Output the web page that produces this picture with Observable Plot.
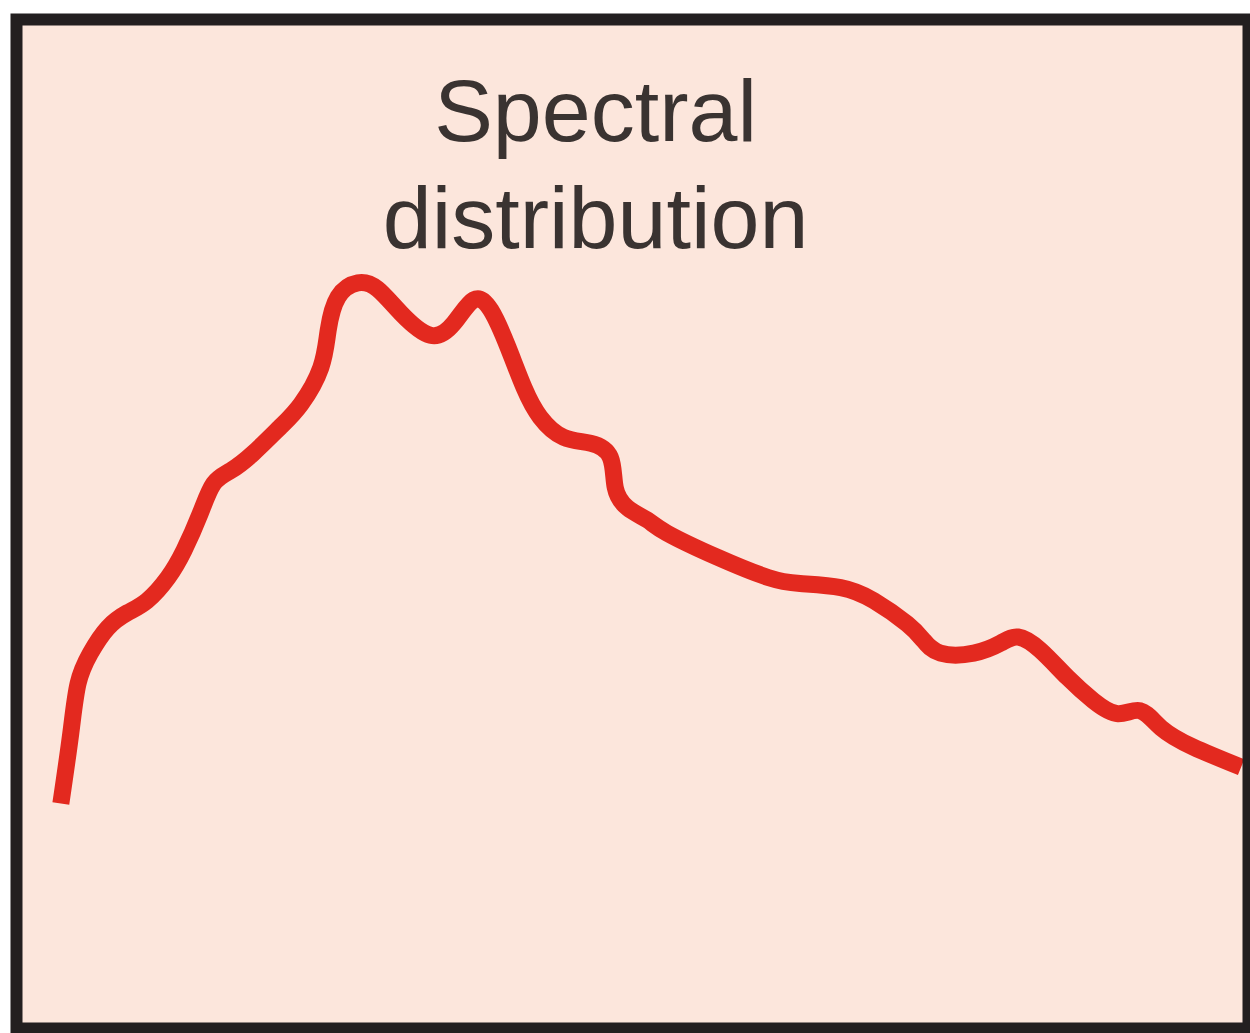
<!DOCTYPE html>
<html>
<head>
<meta charset="utf-8">
<script src="https://cdn.jsdelivr.net/npm/d3@7"></script>
<script src="https://cdn.jsdelivr.net/npm/@observablehq/plot@0.6"></script>
<style>
  html, body { margin: 0; padding: 0; background: #ffffff; }
  #chart svg { display: block; }
</style>
</head>
<body>
<div id="chart"></div>
<script>
// Position along the spectrum (relative units, 0–100)
const position = [
  3.6, 4.4, 5.0, 6.0, 7.4, 9.0, 10.6, 12.3, 13.6, 14.9, 16.0, 17.4, 19.2, 21.4,
  23.1, 24.7, 25.3, 26.1, 27.7, 29.3, 31.2, 33.6, 35.5, 37.1, 38.5, 39.9, 41.2,
  42.5, 44.4, 46.6, 48.2, 48.6, 49.6, 51.2, 52.8, 56.9, 61.0, 63.6, 66.9, 69.6,
  72.3, 73.6, 75.0, 77.7, 79.9, 81.3, 83.1, 85.3, 87.4, 89.4, 91.2, 92.9, 95.5, 99.4
];
// Relative intensity (0–100)
const intensity = [
  22.3, 29.2, 34.2, 37.2, 39.7, 41.2, 42.4, 44.7, 47.4, 51.0, 54.0, 55.3, 57.0, 59.6,
  61.9, 65.5, 69.2, 72.5, 73.9, 73.3, 70.9, 68.7, 69.9, 72.2, 71.2, 67.5, 63.5,
  60.6, 58.6, 58.0, 56.6, 53.6, 51.6, 50.4, 49.1, 46.7, 44.7, 44.1, 43.7, 42.4,
  40.1, 38.5, 37.2, 37.2, 38.2, 38.8, 37.5, 34.8, 32.5, 31.2, 31.5, 29.8, 27.9, 25.9
];
const labelText = "Spectral\ndistribution";
const labelPos = [{x: 47.0, y: 95.5, text: labelText}];

const data = position.map((p, i) => ({x: p, y: intensity[i]}));

const chart = Plot.plot({
  width: 1250,
  height: 1033,
  marginLeft: 16,
  marginRight: 2,
  marginTop: 19,
  marginBottom: 5,
  style: {background: "#ffffff", overflow: "visible"},
  x: {domain: [0, 100], axis: null},
  y: {domain: [0, 100], axis: null},
  marks: [
    Plot.frame({fill: "#fce6dc", stroke: "none"}),
    Plot.line(data, {
      x: "x", y: "y",
      curve: "natural",
      stroke: "#e3291f",
      strokeWidth: 17,
      strokeLinecap: "butt",
      strokeLinejoin: "round"
    }),
    Plot.text(labelPos, {
      x: "x", y: "y", text: "text",
      lineAnchor: "top",
      lineHeight: 1.22,
      fontSize: 88,
      fontFamily: "Liberation Sans, Arial, sans-serif",
      fill: "#3a3331",
      textAnchor: "middle"
    }),
    Plot.frame({stroke: "#231f20", strokeWidth: 12, fill: "none"})
  ]
});
document.getElementById("chart").appendChild(chart);
</script>
</body>
</html>
